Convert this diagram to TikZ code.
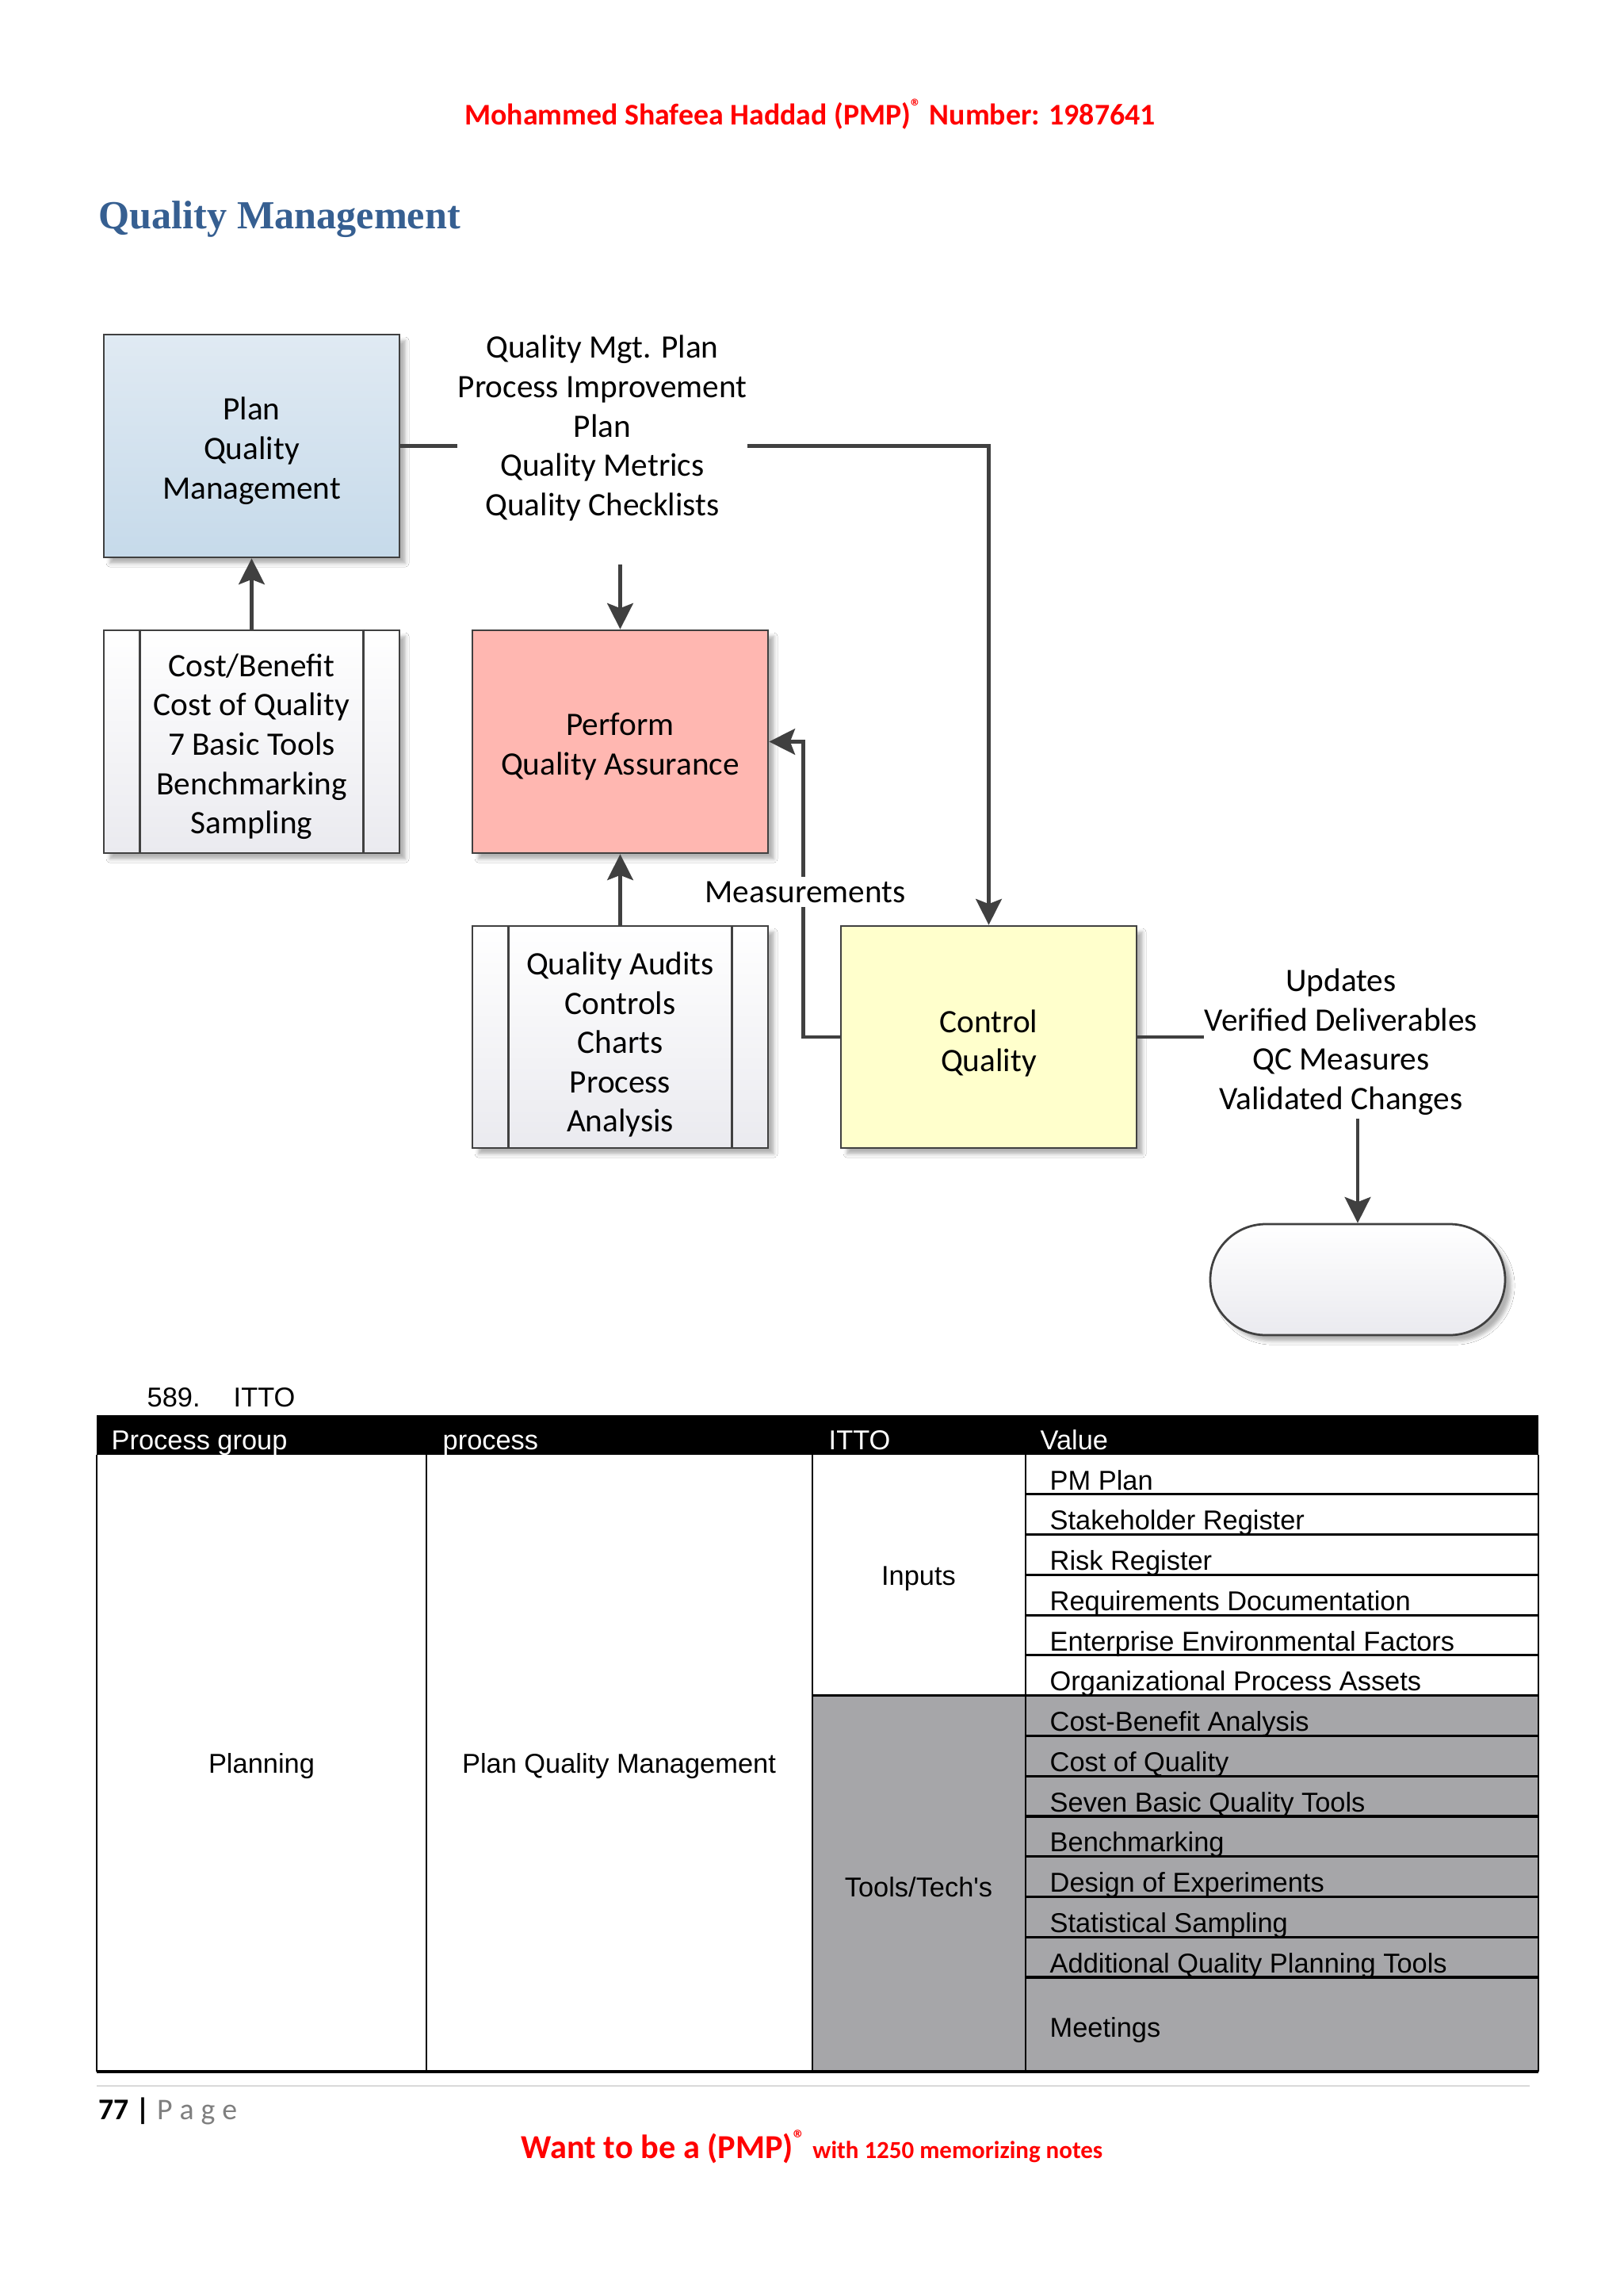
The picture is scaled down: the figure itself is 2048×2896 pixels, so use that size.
\documentclass[tikz,border=0pt]{standalone}
\usepackage{fontspec}
\setmainfont{Carlito}
\newfontfamily\arialf{Liberation Sans}
\newfontfamily\serifb{Liberation Serif}
\usetikzlibrary{arrows.meta,shapes.misc,shadows.blur,calc}
\newlength\px
\setlength\px{0.29067pt}
\definecolor{linegray}{RGB}{64,64,64}
\definecolor{pmpred}{RGB}{255,0,0}
\definecolor{headblue}{RGB}{54,95,145}
\definecolor{planTop}{RGB}{224,234,243}
\definecolor{planBot}{RGB}{198,218,234}
\definecolor{pqafill}{RGB}{255,183,177}
\definecolor{cqfill}{RGB}{255,255,204}
\definecolor{toolBot}{RGB}{234,234,239}
\definecolor{cellgray}{RGB}{166,166,169}
\definecolor{footgray}{RGB}{217,217,217}
\definecolor{pagegray}{RGB}{127,127,127}
\begin{document}
\begin{tikzpicture}[x=0.29067pt,y=-0.29067pt,
  conn/.style={draw=linegray, line width=1.3pt},
  arr/.style={conn, -{Stealth[length=9.5pt,width=9.5pt,inset=1.8pt]}},
  boxshadow/.style={blur shadow={shadow xshift=2.2pt, shadow yshift=-2.2pt, shadow blur radius=1.3pt, shadow opacity=30}},
  box/.style={draw=linegray, line width=0.8pt, minimum width=373\px, minimum height=281\px,
     inner sep=0pt, boxshadow},
  toolbox/.style={box, top color=white, bottom color=toolBot},
  txt/.style={align=center, font=\fontsize{12}{14.4}\selectfont, inner sep=0pt},
  btxt/.style={txt, yshift=-1.8pt},
  cell/.style={font=\arialf\fontsize{10}{12}\selectfont, inner sep=0pt},
  hcell/.style={cell, text=white},
  rowline/.style={draw=black, line width=0.9pt},
  colline/.style={draw=black, line width=0.5pt}
]
\useasboundingbox (0,0) rectangle (2048,2896);
\fill[white] (0,0) rectangle (2048,2896);

% ---- page header
\node[anchor=base, text=pmpred, inner sep=0pt, font=\bfseries\fontsize{11}{13}\selectfont] (hdr) at (1022,157)
  {Mohammed Shafeea Haddad (PMP)\textsuperscript{®} Number: 1987641};
\node[anchor=base west, text=headblue, inner sep=0pt, font=\serifb\bfseries\fontsize{14.6}{17}\selectfont] (title) at (124,288)
  {Quality Management};

% ---- diagram boxes
\node[box, top color=planTop, bottom color=planBot] (plan) at (317.5,562.5) {};
\node[toolbox] (t1) at (317.5,935.5) {};
\node[box, fill=pqafill] (pqa) at (782.5,935.5) {};
\node[toolbox, minimum height=280\px] (t2) at (782.5,1308) {};
\node[box, fill=cqfill, minimum height=280\px] (cq) at (1247.5,1308) {};
\node[draw=linegray, line width=0.8pt, rounded rectangle, minimum width=372\px, minimum height=140\px,
  inner sep=0pt, top color=white, bottom color=toolBot, boxshadow] (term) at (1713,1614) {};

\foreach \b in {t1,t2}{
  \draw[draw=linegray, line width=0.8pt] ([xshift=47\px]\b.north west) -- ([xshift=47\px]\b.south west);
  \draw[draw=linegray, line width=0.8pt] ([xshift=-47\px]\b.north east) -- ([xshift=-47\px]\b.south east);
}

% ---- box texts
\node[btxt] (planL) at (plan.center) {Plan\\Quality\\Management};
\node[btxt] (t1L) at (t1.center) {Cost/Benefit\\Cost of Quality\\7 Basic Tools\\Benchmarking\\Sampling};
\node[btxt] (pqaL) at (pqa.center) {Perform\\Quality Assurance};
\node[btxt, yshift=-1pt] (t2L) at (t2.center) {Quality Audits\\Controls\\Charts\\Process\\Analysis};
\node[btxt, yshift=-0.5pt] (cqL) at (cq.center) {Control\\Quality};

% ---- labels
\node[txt] (qmp) at (760,540) {Quality Mgt. Plan\\Process Improvement\\Plan\\Quality Metrics\\Quality Checklists};
\node[txt] (upd) at (1692,1314) {Updates\\Verified Deliverables\\QC Measures\\Validated Changes};

% ---- connectors
\coordinate (qa) at (782.5,712);
\coordinate (ta) at (1713,1411);
\draw[conn] (plan.east) -- (plan.east -| qmp.west);
\draw[arr] (plan.east -| qmp.east) -| (cq.north);
\draw[arr] (qa) -- (pqa.north);
\draw[arr] (t1.north) -- (plan.south);
\draw[arr] (t2.north) -- (pqa.south);
\draw[arr] (cq.west) -- ++(-46,0) |- (pqa.east);
\node[txt, fill=white, inner sep=1.5pt] (meas) at (1016,1125) {Measurements};
\draw[conn] (cq.east) -- (cq.east -| upd.west);
\draw[arr] (ta) -- (term.north);

% ---- table
\node[anchor=base west, cell] (num) at (185,1774) {589.};
\node[anchor=base west, cell] (itto) at (294,1774) {ITTO};
\fill[black] (122,1785) rectangle (1941,1835);
\fill[cellgray] (1025,2138.6) rectangle (1941,2613);
\node[hcell, anchor=base west] (h1) at (140,1828) {Process group};
\node[hcell, anchor=base west] (h2) at (558,1828) {process};
\node[hcell, anchor=base west] (h3) at (1045,1828) {ITTO};
\node[hcell, anchor=base west] (h4) at (1312,1828) {Value};
\foreach \xx in {122,538,1025,1294,1941}
  \draw[colline] (\xx,1835) -- (\xx,2613);
\foreach \i in {1,...,13}
  \draw[rowline] (1294,{1834+50.77*\i}) -- (1941,{1834+50.77*\i});
\draw[rowline] (1025,2138.6) -- (1294,2138.6);
\draw[draw=black, line width=1.3pt] (122,2613) -- (1941,2613);
\foreach \t [count=\i from 0] in {PM Plan, Stakeholder Register, Risk Register, Requirements Documentation,
  Enterprise Environmental Factors, Organizational Process Assets, Cost-Benefit Analysis, Cost of Quality,
  Seven Basic Quality Tools, Benchmarking, Design of Experiments, Statistical Sampling,
  Additional Quality Planning Tools}
  \node[cell, anchor=base west] (v\i) at (1324,{1834+50.77*\i+45}) {\t};
\node[cell, anchor=base west] (v13) at (1324,2569) {Meetings};
\node[cell] (inp) at (1159,1991) {Inputs};
\node[cell] (tls) at (1159,2380) {Tools/Tech's};
\node[cell] (pg) at (330,2228) {Planning};
\node[cell] (pqm) at (781,2228) {Plan Quality Management};

% ---- footer
\draw[draw=footgray, line width=0.8pt] (122,2631) -- (1930,2631);
\node[anchor=base west, inner sep=0pt, font=\fontsize{11}{13}\selectfont] (pagenum) at (124,2673)
  {\textbf{77 |} \textcolor{pagegray}{P\hspace{2.6pt}a\hspace{2.6pt}g\hspace{2.6pt}e}};
\node[anchor=base west, inner sep=0pt, text=pmpred] (foot) at (657,2722)
  {{\bfseries\fontsize{12.3}{14}\selectfont Want to be a (PMP)\textsuperscript{®}} {\bfseries\fontsize{9}{10}\selectfont with 1250 memorizing notes}};
\end{tikzpicture}
\end{document}
